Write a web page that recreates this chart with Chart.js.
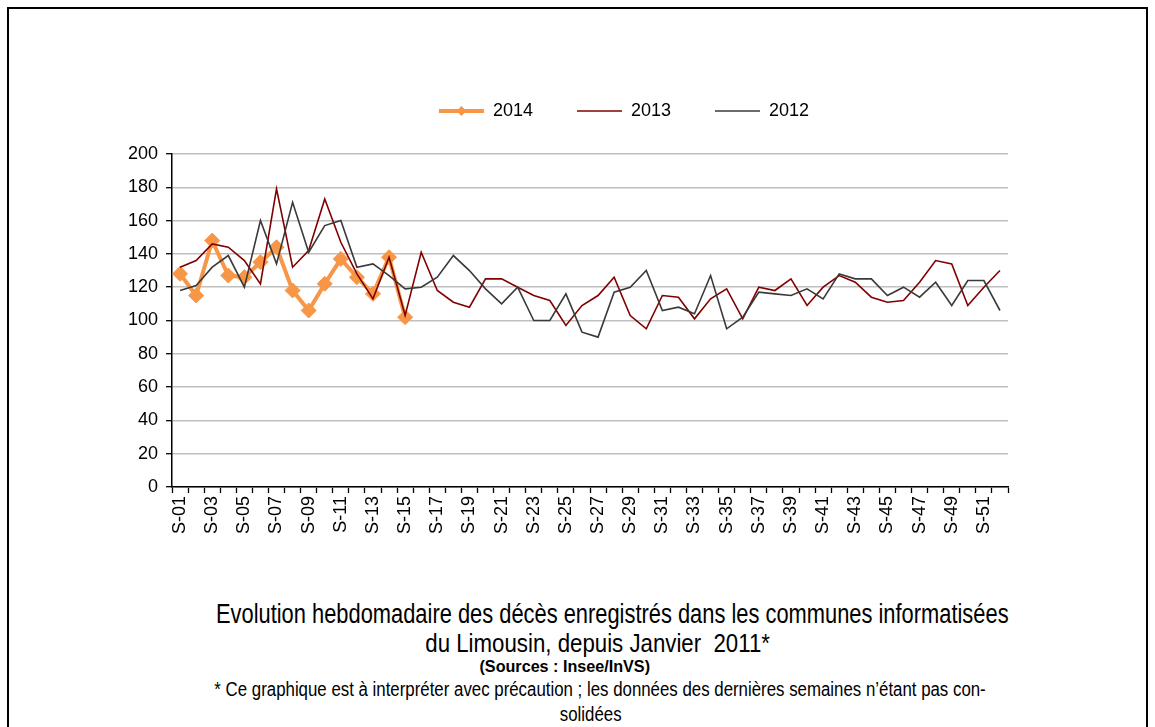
<!DOCTYPE html>
<html>
<head>
<meta charset="utf-8">
<script src="https://cdn.jsdelivr.net/npm/chart.js@4"></script>
<style>
  html, body { margin: 0; padding: 0; background: #fff; overflow: hidden; }
  #page { position: relative; width: 1155px; height: 727px; }
  #cadre { position: absolute; left: 7px; top: 7px; width: 1137px; height: 900px; border: 2px solid #000; }
  #graph { position: absolute; left: 0; top: 0; }
  .txt { position: absolute; left: 0; width: 1155px; text-align: center; color: #000; white-space: nowrap;
         font-family: "Liberation Sans", Arial, sans-serif; }
  .txt span { display: inline-block; }
</style>
</head>
<body>
<div id="page">
  <div id="cadre"></div>
  <canvas id="graph" width="1155" height="560"></canvas>
  <div class="txt" style="top:601px;font-size:27px;line-height:27px;left:35px;"><span style="transform:scaleX(0.81)">Evolution hebdomadaire des décès enregistrés dans les communes informatisées</span></div>
  <div class="txt" style="top:631px;font-size:25px;line-height:25px;left:20px;"><span style="transform:scaleX(0.89)">du Limousin, depuis Janvier&nbsp; 2011*</span></div>
  <div class="txt" style="top:658px;font-size:17px;line-height:17px;font-weight:bold;left:-13px;"><span style="transform:scaleX(0.95)">(Sources : Insee/InVS)</span></div>
  <div class="txt" style="top:679px;font-size:20px;line-height:20px;left:23px;"><span style="transform:scaleX(0.842)">* Ce graphique est à interpréter avec précaution ; les données des dernières semaines n’étant pas con-</span></div>
  <div class="txt" style="top:704px;font-size:20px;line-height:20px;left:13px;"><span style="transform:scaleX(0.842)">solidées</span></div>
</div>

<script>
// Semaines S-01 .. S-52
const semaines = [];
for (let i = 1; i <= 52; i++) {
    semaines.push('S-' + String(i).padStart(2, '0'));
}

// Décès hebdomadaires par année
const deces2014 = [128, 115, 148, 127, 126, 135, 144, 118, 106, 122, 137, 126, 116, 138, 102];

const deces2013 = [132, 136, 146, 144, 136, 122, 179, 132, 142, 173, 147, 128, 113, 138, 103,
    141, 118, 111, 108, 125, 125, 120, 115, 112, 97, 109, 115, 126, 103, 95,
    115, 114, 101, 113, 119, 101, 120, 118, 125, 109, 120, 127, 123, 114, 111,
    112, 123, 136, 134, 109, 120, 130];

const deces2012 = [118, 121, 132, 139, 120, 160, 134, 171, 141, 157, 160, 132, 134, 127, 119,
    120, 126, 139, 130, 119, 110, 120, 100, 100, 116, 93, 90, 117, 120, 130,
    106, 108, 104, 127, 95, 102, 117, 116, 115, 119, 113, 128, 125, 125, 115,
    120, 114, 123, 109, 124, 124, 106];

const yTicks = { min: 0, max: 200, step: 20 };

const police = "'Liberation Sans', Arial, sans-serif";

// Ajoute de l'espace sous la légende
const espaceLegende = {
    id: 'espaceLegende',
    beforeInit(chart) {
        const fitOrig = chart.legend.fit;
        chart.legend.fit = function () {
            fitOrig.bind(chart.legend)();
            this.height += 24;
        };
    },
    afterLayout(chart) {
        // recentre la légende comme dans l'original
        const lg = chart.legend;
        const dx = 624 - (lg.left + lg.right) / 2;
        lg.left += dx;
        lg.right += dx;
        (lg.legendHitBoxes || []).forEach(b => { b.left += dx; });
    }
};

// Losange sur le symbole de légende 2014
const losangeLegende = {
    id: 'losangeLegende',
    afterDraw(chart) {
        const boxes = chart.legend.legendHitBoxes;
        if (!boxes || !boxes.length) return;
        const b = boxes[0];
        const cx = b.left + 45 / 2;
        const cy = b.top + b.height / 2;
        const ctx = chart.ctx;
        ctx.save();
        ctx.fillStyle = '#F79646';
        ctx.beginPath();
        ctx.moveTo(cx, cy - 5);
        ctx.lineTo(cx + 5, cy);
        ctx.lineTo(cx, cy + 5);
        ctx.lineTo(cx - 5, cy);
        ctx.closePath();
        ctx.fill();
        ctx.restore();
    }
};

const ctx = document.getElementById('graph').getContext('2d');
const chart = new Chart(ctx, {
    type: 'line',
    data: {
        labels: semaines,
        datasets: [{
            label: '2014',
            data: deces2014,
            borderColor: '#F79646',
            backgroundColor: '#F79646',
            borderWidth: 4,
            pointStyle: 'rectRot',
            pointRadius: 7.5,
            pointBorderWidth: 1,
            tension: 0,
            order: 2
        }, {
            label: '2013',
            data: deces2013,
            borderColor: '#800000',
            backgroundColor: '#800000',
            borderWidth: 1.6,
            pointRadius: 0,
            tension: 0,
            order: 1
        }, {
            label: '2012',
            data: deces2012,
            borderColor: '#3a3a3a',
            backgroundColor: '#3a3a3a',
            borderWidth: 1.6,
            pointRadius: 0,
            tension: 0,
            order: 0
        }]
    },
    options: {
        responsive: false,
        animation: false,
        devicePixelRatio: 1,
        layout: { padding: { left: 120, right: 147, top: 58, bottom: 23 } },
        plugins: {
            tooltip: { enabled: false },
            legend: {
                position: 'top',
                labels: {
                    color: '#000',
                    font: { family: police, size: 18 },
                    usePointStyle: true,
                    pointStyle: 'line',
                    pointStyleWidth: 45,
                    padding: 44,
                    generateLabels(chart) {
                        return chart.data.datasets.map((ds, i) => ({
                            text: ds.label,
                            fillStyle: ds.borderColor,
                            strokeStyle: ds.borderColor,
                            lineWidth: ds.borderWidth,
                            pointStyle: 'line',
                            datasetIndex: i,
                            hidden: false
                        }));
                    }
                }
            }
        },
        scales: {
            x: {
                offset: true,
                grid: {
                    offset: true,
                    drawOnChartArea: false,
                    drawTicks: true,
                    tickLength: 6,
                    tickColor: '#000',
                    tickWidth: 1.3
                },
                border: { color: '#000', width: 1.5 },
                ticks: {
                    autoSkip: false,
                    minRotation: 90,
                    maxRotation: 90,
                    padding: 3,
                    color: '#000',
                    font: { family: police, size: 18 },
                    callback(value, index) {
                        return index % 2 === 0 ? semaines[index] : '';
                    }
                }
            },
            y: {
                min: yTicks.min,
                max: yTicks.max,
                grid: {
                    color: '#BFBFBF',
                    lineWidth: 1.4,
                    drawTicks: true,
                    tickLength: 6,
                    tickColor: '#000',
                    tickWidth: 1.3
                },
                border: { color: '#000', width: 1.5 },
                ticks: {
                    stepSize: yTicks.step,
                    padding: 8,
                    color: '#000',
                    font: { family: police, size: 18 }
                }
            }
        }
    },
    plugins: [espaceLegende, losangeLegende]
});
</script>
</body>
</html>
